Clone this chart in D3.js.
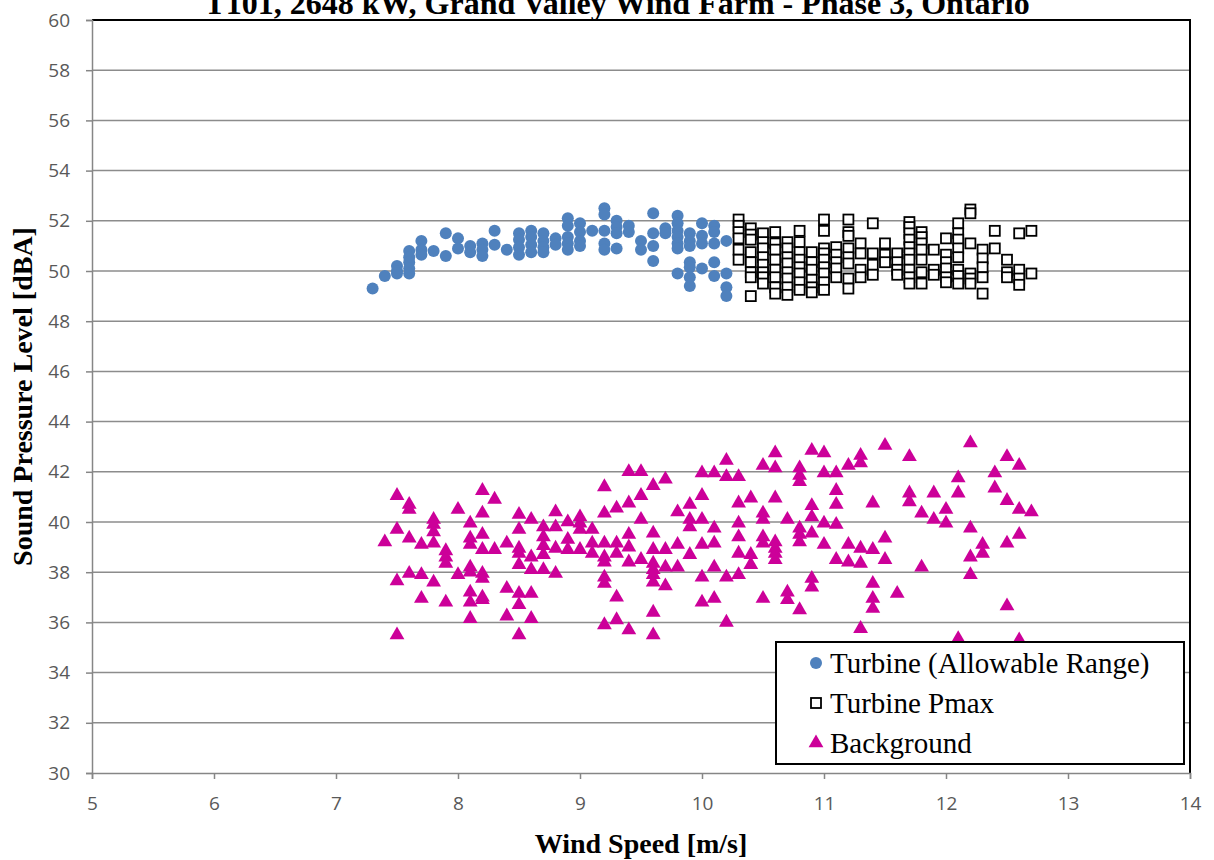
<!DOCTYPE html>
<html>
<head>
<meta charset="utf-8">
<script src="https://cdn.jsdelivr.net/npm/d3@7"></script>
<style>
body { margin: 0; background: #fff; }
</style>
</head>
<body>
<div id="divbody"></div>
<script>
var titleText = 'T101, 2648 kW, Grand Valley Wind Farm - Phase 3, Ontario';
var xLabel = 'Wind Speed [m/s]';
var yLabel = 'Sound Pressure Level [dBA]';
var xTicks = [5, 6, 7, 8, 9, 10, 11, 12, 13, 14];
var yTicks = [30, 32, 34, 36, 38, 40, 42, 44, 46, 48, 50, 52, 54, 56, 58, 60];
var seriesNames = ['Turbine (Allowable Range)', 'Turbine Pmax', 'Background'];

// [wind speed, level]
var turbineAllowable = [
	[7.3,49.3],[7.4,49.8],[7.5,50.2],[7.5,50.0],[7.5,49.9],
	[7.6,50.8],[7.6,50.55],[7.6,50.35],[7.6,50.1],[7.6,49.9],
	[7.7,51.2],[7.7,50.85],[7.7,50.65],[7.8,50.8],[7.9,51.5],[7.9,50.6],
	[8.0,51.3],[8.0,50.9],[8.1,51.0],[8.1,50.75],[8.2,51.1],[8.2,50.85],[8.2,50.6],
	[8.3,51.6],[8.3,51.05],[8.4,50.85],
	[8.5,51.5],[8.5,51.25],[8.5,50.95],[8.5,50.65],
	[8.6,51.6],[8.6,51.35],[8.6,51.05],[8.6,50.75],
	[8.7,51.5],[8.7,51.2],[8.7,50.95],[8.7,50.75],[8.8,51.3],[8.8,51.05],
	[8.9,52.1],[8.9,51.8],[8.9,51.35],[8.9,51.1],[8.9,50.85],
	[9.0,51.9],[9.0,51.55],[9.0,51.2],[9.0,51.0],[9.1,51.6],
	[9.2,52.5],[9.2,52.25],[9.2,51.6],[9.2,51.1],[9.2,50.85],
	[9.3,52.0],[9.3,51.75],[9.3,51.5],[9.3,50.9],[9.4,51.8],[9.4,51.55],
	[9.5,51.2],[9.5,50.85],[9.6,52.3],[9.6,51.5],[9.6,51.0],[9.6,50.4],
	[9.7,51.7],[9.7,51.5],
	[9.8,52.2],[9.8,51.9],[9.8,51.6],[9.8,51.35],[9.8,51.1],[9.8,50.9],[9.8,49.9],
	[9.9,51.5],[9.9,51.2],[9.9,51.0],[9.9,50.35],[9.9,50.15],[9.9,49.75],[9.9,49.4],
	[10.0,51.9],[10.0,51.4],[10.0,51.1],[10.0,50.1],
	[10.1,51.8],[10.1,51.55],[10.1,51.1],[10.1,50.35],[10.1,49.8],
	[10.2,51.2],[10.2,49.9],[10.2,49.35],[10.2,49.0]
];

var turbinePmax = [
	[10.3,52.05],[10.3,51.8],[10.3,51.55],[10.3,51.3],[10.3,50.85],[10.3,50.45],
	[10.4,51.7],[10.4,51.45],[10.4,51.25],[10.4,50.75],[10.4,50.35],[10.4,49.95],[10.4,49.75],[10.4,49.0],
	[10.5,51.5],[10.5,51.15],[10.5,50.9],[10.5,50.55],[10.5,50.25],[10.5,49.95],[10.5,49.75],[10.5,49.5],
	[10.6,51.55],[10.6,51.1],[10.6,50.85],[10.6,50.45],[10.6,50.05],[10.6,49.75],[10.6,49.35],[10.6,49.1],
	[10.7,51.15],[10.7,50.9],[10.7,50.55],[10.7,50.3],[10.7,49.95],[10.7,49.7],[10.7,49.35],[10.7,49.05],
	[10.8,51.6],[10.8,51.15],[10.8,50.75],[10.8,50.45],[10.8,50.15],[10.8,49.9],[10.8,49.55],[10.8,49.25],
	[10.9,50.75],[10.9,50.35],[10.9,50.05],[10.9,49.65],[10.9,49.35],[10.9,49.15],
	[11.0,52.05],[11.0,51.6],[11.0,50.9],[11.0,50.7],[11.0,50.45],[11.0,50.15],[11.0,49.9],[11.0,49.55],[11.0,49.25],
	[11.1,50.95],[11.1,50.65],[11.1,50.35],[11.1,50.1],[11.1,49.75],
	[11.2,52.05],[11.2,51.55],[11.2,51.4],[11.2,50.9],[11.2,50.55],[11.2,50.3],[11.2,49.7],[11.2,49.3],
	[11.3,51.1],[11.3,50.7],[11.3,50.05],[11.3,49.75],
	[11.4,51.9],[11.4,50.7],[11.4,50.25],[11.4,49.85],
	[11.5,51.1],[11.5,50.65],[11.5,50.35],
	[11.6,50.7],[11.6,50.35],[11.6,50.05],[11.6,49.85],
	[11.7,51.95],[11.7,51.75],[11.7,51.5],[11.7,51.25],[11.7,50.95],[11.7,50.7],[11.7,50.45],[11.7,50.05],[11.7,49.75],[11.7,49.5],
	[11.8,51.55],[11.8,51.35],[11.8,51.1],[11.8,50.85],[11.8,50.45],[11.8,49.95],[11.8,49.5],
	[11.9,50.85],[11.9,50.05],[11.9,49.85],
	[12.0,51.3],[12.0,50.65],[12.0,50.35],[12.0,50.1],[12.0,49.75],[12.0,49.55],
	[12.1,51.9],[12.1,51.5],[12.1,51.25],[12.1,50.9],[12.1,50.55],[12.1,50.05],[12.1,49.8],[12.1,49.5],
	[12.2,52.45],[12.2,52.3],[12.2,51.1],[12.2,49.9],[12.2,49.7],[12.2,49.5],
	[12.3,50.85],[12.3,50.5],[12.3,50.15],[12.3,49.75],[12.3,49.1],
	[12.4,51.6],[12.4,50.9],
	[12.5,50.45],[12.5,49.95],[12.5,49.75],
	[12.6,51.5],[12.6,50.05],[12.6,49.7],[12.6,49.45],
	[12.7,51.6],[12.7,49.9]
];

var background = [
	[7.4,39.2],
	[7.5,41.05],[7.5,39.7],[7.5,37.65],[7.5,35.5],
	[7.6,40.7],[7.6,40.5],[7.6,39.35],[7.6,37.95],
	[7.7,39.1],[7.7,37.9],[7.7,36.95],
	[7.8,40.1],[7.8,39.9],[7.8,39.6],[7.8,39.15],[7.8,37.6],
	[7.9,38.85],[7.9,38.6],[7.9,38.35],[7.9,36.8],
	[8.0,40.5],[8.0,37.9],
	[8.1,39.95],[8.1,39.35],[8.1,39.1],[8.1,38.2],[8.1,38.0],[8.1,37.2],[8.1,36.8],[8.1,36.15],
	[8.2,41.25],[8.2,40.35],[8.2,39.5],[8.2,38.9],[8.2,37.95],[8.2,37.75],[8.2,37.0],[8.2,36.9],
	[8.3,40.9],[8.3,38.9],
	[8.4,39.15],[8.4,37.35],[8.4,36.25],
	[8.5,40.3],[8.5,39.7],[8.5,38.95],[8.5,38.75],[8.5,38.3],[8.5,37.15],[8.5,36.7],[8.5,35.5],
	[8.6,40.1],[8.6,38.6],[8.6,38.1],[8.6,37.15],[8.6,36.15],
	[8.7,39.8],[8.7,39.4],[8.7,39.05],[8.7,38.7],[8.7,38.1],
	[8.8,40.4],[8.8,39.8],[8.8,38.95],[8.8,37.95],
	[8.9,40.0],[8.9,39.3],[8.9,38.9],
	[9.0,40.2],[9.0,39.95],[9.0,39.7],[9.0,38.9],
	[9.1,39.7],[9.1,39.15],[9.1,38.75],
	[9.2,41.4],[9.2,40.35],[9.2,39.15],[9.2,38.6],[9.2,38.4],[9.2,37.8],[9.2,37.55],[9.2,35.9],
	[9.3,40.55],[9.3,39.15],[9.3,38.75],[9.3,37.0],[9.3,36.1],
	[9.4,42.0],[9.4,40.75],[9.4,39.5],[9.4,39.0],[9.4,38.4],[9.4,35.7],
	[9.5,42.0],[9.5,41.05],[9.5,40.1],[9.5,38.5],
	[9.6,41.45],[9.6,39.55],[9.6,38.9],[9.6,38.35],[9.6,38.1],[9.6,37.9],[9.6,37.6],[9.6,36.4],[9.6,35.5],
	[9.7,41.7],[9.7,38.9],[9.7,38.2],[9.7,37.45],
	[9.8,40.4],[9.8,39.1],[9.8,38.2],
	[9.9,40.7],[9.9,40.1],[9.9,39.8],[9.9,38.7],
	[10.0,41.95],[10.0,41.05],[10.0,40.1],[10.0,39.1],[10.0,37.8],[10.0,36.8],
	[10.1,41.95],[10.1,39.75],[10.1,39.15],[10.1,38.2],[10.1,36.95],
	[10.2,42.45],[10.2,41.8],[10.2,37.8],[10.2,36.0],
	[10.3,41.8],[10.3,40.75],[10.3,39.95],[10.3,39.4],[10.3,38.75],[10.3,37.9],
	[10.4,40.95],[10.4,38.7],[10.4,38.3],
	[10.5,42.25],[10.5,40.35],[10.5,40.1],[10.5,39.4],[10.5,39.15],[10.5,36.95],
	[10.6,42.75],[10.6,42.15],[10.6,40.95],[10.6,39.2],[10.6,38.95],[10.6,38.75],[10.6,38.5],
	[10.7,40.1],[10.7,37.2],[10.7,36.9],
	[10.8,42.15],[10.8,41.85],[10.8,41.6],[10.8,39.75],[10.8,39.5],[10.8,39.2],[10.8,36.5],
	[10.9,42.85],[10.9,40.65],[10.9,40.2],[10.9,39.55],[10.9,37.75],[10.9,37.4],
	[11.0,42.75],[11.0,41.95],[11.0,39.95],[11.0,39.1],
	[11.1,41.95],[11.1,41.25],[11.1,40.7],[11.1,39.9],[11.1,38.5],
	[11.2,42.25],[11.2,39.1],[11.2,38.4],
	[11.3,42.65],[11.3,42.35],[11.3,38.95],[11.3,38.35],[11.3,35.75],
	[11.4,40.75],[11.4,38.9],[11.4,37.55],[11.4,36.95],[11.4,36.55],
	[11.5,43.05],[11.5,39.35],[11.5,38.5],
	[11.6,37.15],
	[11.7,42.6],[11.7,41.15],[11.7,40.8],
	[11.8,40.35],[11.8,38.2],
	[11.9,41.15],[11.9,40.1],
	[12.0,40.5],[12.0,39.95],
	[12.1,41.75],[12.1,41.15],[12.1,35.35],
	[12.2,43.15],[12.2,39.75],[12.2,38.6],[12.2,37.9],
	[12.3,39.1],[12.3,38.75],
	[12.4,41.95],[12.4,41.35],
	[12.5,42.6],[12.5,40.85],[12.5,39.15],[12.5,36.65],
	[12.6,42.25],[12.6,40.5],[12.6,39.5],[12.6,35.3],
	[12.7,40.4]
];

var width = 1214;
var height = 860;
var margin = {left: 92, right: 24, top: 20, bottom: 87};
var plotW = width - margin.left - margin.right;
var plotH = height - margin.top - margin.bottom;
var serif = "'Liberation Serif', 'Times New Roman', serif";

var svg = d3.select("#divbody").append("svg")
	.attr("width", width)
	.attr("height", height);

var x = d3.scaleLinear().domain([5, 14]).range([margin.left, margin.left + plotW]);
var y = d3.scaleLinear().domain([30, 60]).range([margin.top + plotH, margin.top]);

// gridlines
svg.append("g").selectAll("line")
	.data(yTicks.slice(1))
	.enter()
	.append("line")
	.attr("x1", x(5))
	.attr("x2", x(14))
	.attr("y1", function(d){ return y(d); })
	.attr("y2", function(d){ return y(d); })
	.attr("stroke", "#8c8c8c")
	.attr("stroke-width", 1.5);

// plot frame top / right
svg.append("path")
	.attr("d", "M" + x(5) + "," + y(60) + "H" + x(14) + "V" + y(30))
	.attr("fill", "none")
	.attr("stroke", "#000")
	.attr("stroke-width", 2);

var xAxis = svg.append("g")
	.attr("transform", "translate(0," + y(30) + ")")
	.call(d3.axisBottom(x).tickValues(xTicks).tickSize(6).tickPadding(18));
var yAxis = svg.append("g")
	.attr("transform", "translate(" + x(5) + ",0)")
	.call(d3.axisLeft(y).tickValues(yTicks).tickSize(6).tickPadding(16));

[xAxis, yAxis].forEach(function(ax){
	ax.select(".domain").attr("stroke", "#868686").attr("stroke-width", 1.5);
	ax.selectAll(".tick line").attr("stroke", "#868686").attr("stroke-width", 1.5);
	ax.selectAll(".tick text")
		.attr("fill", "#595959")
		.style("font-family", "'Open Sans', sans-serif")
		.style("font-size", "19px");
});

// series
var marks = svg.append("g");

marks.selectAll("circle")
	.data(turbineAllowable)
	.enter()
	.append("circle")
	.attr("cx", function(d){ return x(d[0]); })
	.attr("cy", function(d){ return y(d[1]); })
	.attr("r", 6)
	.attr("fill", "#4f81bd");

marks.selectAll("rect.pmax")
	.data(turbinePmax)
	.enter()
	.append("rect")
	.attr("class", "pmax")
	.attr("x", function(d){ return x(d[0]) - 5; })
	.attr("y", function(d){ return y(d[1]) - 5; })
	.attr("width", 10)
	.attr("height", 10)
	.attr("fill", "#fff")
	.attr("stroke", "#000")
	.attr("stroke-width", 1.8);

var tri = d3.symbol().type(d3.symbolTriangle).size(95);
marks.selectAll("path.bg")
	.data(background)
	.enter()
	.append("path")
	.attr("class", "bg")
	.attr("d", tri)
	.attr("transform", function(d){ return "translate(" + x(d[0]) + "," + y(d[1]) + ")"; })
	.attr("fill", "#cc0099");

// legend
var legend = svg.append("g").attr("transform", "translate(776,642)");
legend.append("rect")
	.attr("width", 408)
	.attr("height", 122)
	.attr("fill", "#fff")
	.attr("stroke", "#000")
	.attr("stroke-width", 2);

var rows = legend.selectAll("g.row")
	.data(seriesNames)
	.enter()
	.append("g")
	.attr("class", "row")
	.attr("transform", function(d, i){ return "translate(0," + (21 + i * 40) + ")"; });

rows.append("text")
	.attr("x", 54)
	.attr("y", 0)
	.attr("dy", "0.35em")
	.style("font-family", serif)
	.style("font-size", "29px")
	.text(function(d){ return d; });

rows.each(function(d, i){
	var g = d3.select(this);
	if (i === 0) {
		g.append("circle").attr("cx", 40).attr("cy", 0).attr("r", 6).attr("fill", "#4f81bd");
	} else if (i === 1) {
		g.append("rect").attr("x", 35).attr("y", -5).attr("width", 10).attr("height", 10)
			.attr("fill", "#fff").attr("stroke", "#000").attr("stroke-width", 1.8);
	} else {
		g.append("path").attr("d", tri).attr("transform", "translate(40,0)").attr("fill", "#cc0099");
	}
});

// titles
svg.append("text")
	.attr("x", 617)
	.attr("y", 14)
	.attr("text-anchor", "middle")
	.style("font-family", serif)
	.style("font-weight", "bold")
	.style("font-size", "32px")
	.text(titleText);

svg.append("text")
	.attr("x", x(9.5))
	.attr("y", 853)
	.attr("text-anchor", "middle")
	.style("font-family", serif)
	.style("font-weight", "bold")
	.style("font-size", "28px")
	.text(xLabel);

svg.append("text")
	.attr("transform", "translate(32," + y(45) + ") rotate(-90)")
	.attr("text-anchor", "middle")
	.style("font-family", serif)
	.style("font-weight", "bold")
	.style("font-size", "28px")
	.text(yLabel);
</script>
</body>
</html>
